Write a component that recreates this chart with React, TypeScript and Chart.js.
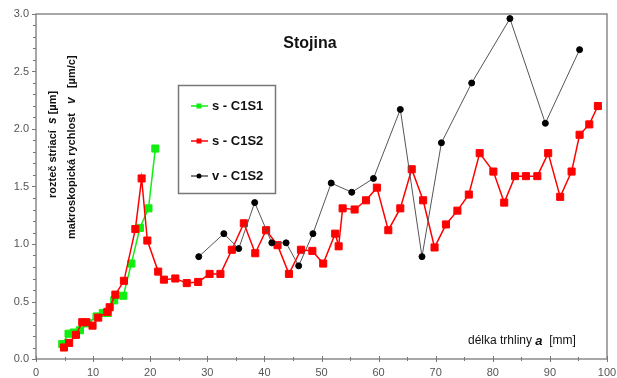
import React, { useEffect, useRef } from "react";
import { Chart, registerables } from "chart.js";
Chart.register(...registerables);

// s - C1S1 (green)
const s1A = [4.6, 5.7, 6.6, 7.7, 9.1, 10.6, 11.7, 12.6, 13.7, 15.3, 16.7, 18.2, 19.7, 20.9];
const s1S = [0.13, 0.22, 0.23, 0.25, 0.31, 0.37, 0.40, 0.40, 0.51, 0.55, 0.83, 1.14, 1.31, 1.83];

// s - C1S2 (red)
const s2A = [4.9, 5.8, 7.0, 8.1, 8.8, 9.9, 10.9, 12.5, 12.9, 13.9, 15.4, 17.4, 18.5, 19.5, 21.4, 22.4, 24.4, 26.4, 28.4, 30.4, 32.3, 34.3, 36.4, 38.4, 40.3, 42.3, 44.3, 46.4, 48.4, 50.3, 52.4, 53.0, 53.7, 55.8, 57.8, 59.7, 61.7, 63.8, 65.8, 67.8, 69.8, 71.8, 73.8, 75.8, 77.7, 80.1, 82.0, 83.9, 85.8, 87.8, 89.7, 91.8, 93.8, 95.2, 96.9, 98.4];
const s2S = [0.10, 0.14, 0.21, 0.32, 0.32, 0.29, 0.36, 0.41, 0.45, 0.56, 0.68, 1.13, 1.57, 1.03, 0.76, 0.69, 0.70, 0.66, 0.67, 0.74, 0.74, 0.95, 1.18, 0.92, 1.12, 0.99, 0.74, 0.95, 0.94, 0.83, 1.09, 0.98, 1.31, 1.30, 1.38, 1.49, 1.12, 1.31, 1.65, 1.38, 0.97, 1.17, 1.29, 1.43, 1.79, 1.63, 1.36, 1.59, 1.59, 1.59, 1.79, 1.41, 1.63, 1.95, 2.04, 2.20];

// v - C1S2 (black)
const vA = [28.5, 32.9, 35.5, 38.3, 41.3, 43.8, 46.0, 48.5, 51.7, 55.3, 59.1, 63.8, 67.6, 71.0, 76.3, 83.0, 89.2, 95.2];
const vV = [0.89, 1.09, 0.96, 1.36, 1.01, 1.01, 0.81, 1.09, 1.53, 1.45, 1.57, 2.17, 0.89, 1.88, 2.40, 2.96, 2.05, 2.69];

const seriesNames = ["s - C1S1", "s - C1S2", "v - C1S2"];
const xMajorStep = 10;
const xMinorStep = 5;
const yMajorStep = 0.5;
const yMinorStep = 0.1;

const FONT = "'Liberation Sans', Arial, sans-serif";

const toPts = (xs: number[], ys: number[]) => xs.map((x, i) => ({ x, y: ys[i] }));

function drawSegments(ctx: CanvasRenderingContext2D, segs: [string, string][], x: number, y: number) {
  let cx = x;
  for (const [font, txt] of segs) {
    ctx.font = font;
    ctx.fillText(txt, cx, y);
    cx += ctx.measureText(txt).width;
  }
}

const decor = {
  id: "decor",
  beforeDatasetsDraw(chart: any) {
    const { ctx, chartArea, scales } = chart;
    const xs = scales.x, ys = scales.y;
    ctx.save();
    ctx.strokeStyle = "#8a8a8a";
    ctx.lineWidth = 1.5;
    ctx.strokeRect(chartArea.left, chartArea.top, chartArea.right - chartArea.left, chartArea.bottom - chartArea.top);
    ctx.lineWidth = 1;
    ctx.strokeStyle = "#777";
    ctx.beginPath();
    for (let v = 0; v <= 3.0001; v += yMinorStep) {
      const py = Math.round(ys.getPixelForValue(v)) + 0.5;
      const major = Math.abs(v / yMajorStep - Math.round(v / yMajorStep)) < 1e-6;
      const len = major ? 4 : 3;
      ctx.moveTo(chartArea.left - len, py);
      ctx.lineTo(chartArea.left, py);
    }
    for (let v = 0; v <= 100.001; v += xMinorStep) {
      const px = Math.round(xs.getPixelForValue(v)) + 0.5;
      const major = Math.abs(v / xMajorStep - Math.round(v / xMajorStep)) < 1e-6;
      const len = major ? 3 : 2;
      ctx.moveTo(px, chartArea.bottom - len);
      ctx.lineTo(px, chartArea.bottom + len);
    }
    ctx.stroke();
    ctx.restore();
  },
  afterDraw(chart: any) {
    const { ctx } = chart;
    ctx.save();
    ctx.fillStyle = "#111";
    // title
    ctx.font = `bold 16px ${FONT}`;
    ctx.textAlign = "center";
    ctx.textBaseline = "middle";
    ctx.fillText("Stojina", 310, 44);

    // x axis label
    ctx.textAlign = "left";
    drawSegments(ctx, [
      [`12px ${FONT}`, "délka trhliny "],
      [`italic bold 13px ${FONT}`, "a"],
      [`12px ${FONT}`, "  [mm]"],
    ], 468, 341);

    // y axis labels (rotated)
    ctx.save();
    ctx.translate(53, 198);
    ctx.rotate(-Math.PI / 2);
    drawSegments(ctx, [
      [`bold 11px ${FONT}`, "rozteč striací  "],
      [`italic bold 12px ${FONT}`, "s"],
      [`bold 11px ${FONT}`, " [µm]"],
    ], 0, 0);
    ctx.restore();
    ctx.save();
    ctx.translate(72, 239);
    ctx.rotate(-Math.PI / 2);
    drawSegments(ctx, [
      [`bold 11px ${FONT}`, "makroskopická rychlost   "],
      [`italic bold 12px ${FONT}`, "v"],
      [`bold 11px ${FONT}`, "   [µm/c]"],
    ], 0, 0);
    ctx.restore();

    // legend
    ctx.strokeStyle = "#777";
    ctx.lineWidth = 1.5;
    ctx.fillStyle = "#fff";
    ctx.fillRect(178.5, 85.5, 97, 108);
    ctx.strokeRect(178.5, 85.5, 97, 108);
    const rows = [106, 141, 176];
    chart.data.datasets.forEach((ds: any, i: number) => {
      const y = rows[i];
      ctx.strokeStyle = ds.borderColor;
      ctx.lineWidth = 1.5;
      ctx.beginPath();
      ctx.moveTo(191, y);
      ctx.lineTo(208, y);
      ctx.stroke();
      ctx.fillStyle = ds.pointBackgroundColor;
      if (ds.pointStyle === "rect") {
        ctx.fillRect(196.5, y - 2.5, 5, 5);
      } else {
        ctx.beginPath();
        ctx.arc(199, y, 2.5, 0, Math.PI * 2);
        ctx.fill();
      }
      ctx.fillStyle = "#111";
      ctx.font = `bold 13px ${FONT}`;
      ctx.textAlign = "left";
      ctx.textBaseline = "middle";
      ctx.fillText(ds.label, 212, y);
    });
    ctx.restore();
  },
};

export default function App() {
  const ref = useRef<HTMLCanvasElement | null>(null);
  useEffect(() => {
    document.body.style.margin = "0";
    const canvas = ref.current;
    if (!canvas) return;
    const chart = new Chart(canvas, {
      type: "line",
      data: {
        datasets: [
          {
            label: seriesNames[0],
            data: toPts(s1A, s1S),
            borderColor: "#11ee11",
            backgroundColor: "#11ee11",
            pointBackgroundColor: "#11ee11",
            pointBorderColor: "#11ee11",
            pointStyle: "rect",
            pointRadius: 5,
            pointBorderWidth: 1,
            borderWidth: 1.5,
            tension: 0,
            fill: false,
            order: 2,
          } as any,
          {
            label: seriesNames[1],
            data: toPts(s2A, s2S),
            borderColor: "#ff0000",
            backgroundColor: "#ff0000",
            pointBackgroundColor: "#ff0000",
            pointBorderColor: "#ff0000",
            pointStyle: "rect",
            pointRadius: 5,
            pointBorderWidth: 1,
            borderWidth: 1.5,
            tension: 0,
            fill: false,
            order: 1,
          } as any,
          {
            label: seriesNames[2],
            data: toPts(vA, vV),
            borderColor: "#555555",
            backgroundColor: "#000000",
            pointBackgroundColor: "#000000",
            pointBorderColor: "#000000",
            pointStyle: "circle",
            pointRadius: 3,
            pointBorderWidth: 1,
            borderWidth: 1,
            tension: 0,
            fill: false,
            order: 0,
          } as any,
        ],
      },
      options: {
        animation: false,
        responsive: false,
        maintainAspectRatio: false,
        layout: { padding: { top: 14, right: 10, left: 0, bottom: 0 } },
        plugins: {
          legend: { display: false },
          tooltip: { enabled: false },
          title: { display: false },
        },
        scales: {
          x: {
            type: "linear",
            min: 0,
            max: 100,
            grid: { display: false, drawTicks: false },
            border: { display: false },
            ticks: {
              stepSize: xMajorStep,
              padding: 7,
              color: "#555",
              font: { family: FONT, size: 11 },
              maxRotation: 0,
              autoSkip: false,
            },
            afterFit: (s: any) => {
              s.height = 19;
              s.paddingRight = 0;
              s.paddingLeft = 0;
            },
          },
          y: {
            type: "linear",
            min: 0,
            max: 3,
            grid: { display: false, drawTicks: false },
            border: { display: false },
            ticks: {
              stepSize: yMajorStep,
              padding: 7,
              color: "#555",
              font: { family: FONT, size: 11 },
              callback: (v: any) => Number(v).toFixed(1),
            },
            afterFit: (s: any) => {
              s.width = 36;
              s.paddingTop = 0;
              s.paddingBottom = 0;
            },
          },
        },
      } as any,
      plugins: [decor],
    });
    return () => chart.destroy();
  }, []);
  return (
    <div style={{ position: "absolute", left: 0, top: 0, width: 617, height: 378 }}>
      <canvas ref={ref} width={617} height={378} />
    </div>
  );
}
